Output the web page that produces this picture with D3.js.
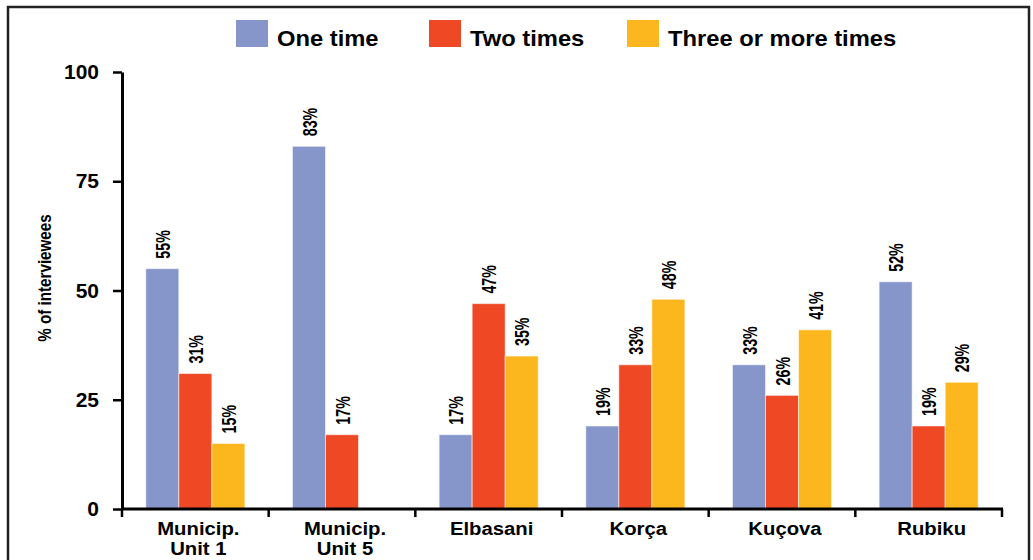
<!DOCTYPE html>
<html>
<head>
<meta charset="utf-8">
<script src="https://cdn.jsdelivr.net/npm/d3@7"></script>
<style>
  html, body { margin: 0; padding: 0; background: #fff; }
  svg { display: block; }
  text { font-family: Arial, "Liberation Sans", Helvetica, sans-serif; font-weight: bold; fill: #000; }
</style>
</head>
<body>
<svg id="chart" width="1033" height="560"></svg>
<script>
// Frequency of responses per municipality
const categories = [["Municip.", "Unit 1"], ["Municip.", "Unit 5"], ["Elbasani"], ["Korça"], ["Kuçova"], ["Rubiku"]];
const seriesNames = ["One time", "Two times", "Three or more times"];
const oneTime      = [55, 83, 17, 19, 33, 52];
const twoTimes     = [31, 17, 47, 33, 26, 19];
const threeOrMore  = [15, null, 35, 48, 41, 29];
const yTicks = [0, 25, 50, 75, 100];
const colors = ["#8696CA", "#EF4824", "#FDB71E"];

const series = [oneTime, twoTimes, threeOrMore];

const svg = d3.select("#chart");

// outer frame
svg.append("rect")
  .attr("x", 8).attr("y", 7)
  .attr("width", 1021).attr("height", 620)
  .attr("fill", "none").attr("stroke", "#222").attr("stroke-width", 2.5);

const plot = { left: 122, right: 1002, top: 72, bottom: 509 };

const x = d3.scaleBand()
  .domain(d3.range(categories.length))
  .range([plot.left, plot.right])
  .padding(0);

const xInner = d3.scaleBand()
  .domain(d3.range(seriesNames.length))
  .range([0, x.bandwidth()])
  .paddingInner(0)
  .paddingOuter(0.72);

const y = d3.scaleLinear().domain([0, 100]).range([plot.bottom, plot.top]);

// bars
const groups = svg.append("g").selectAll("g")
  .data(categories.map((c, i) => i))
  .join("g")
  .attr("transform", i => `translate(${x(i)},0)`);

const cells = i => series.map((s, k) => ({ k, v: s[i] })).filter(d => d.v != null);

groups.selectAll("rect")
  .data(cells)
  .join("rect")
  .attr("x", d => xInner(d.k))
  .attr("width", xInner.bandwidth())
  .attr("y", d => y(d.v))
  .attr("height", d => y(0) - y(d.v))
  .attr("fill", d => colors[d.k])
  .attr("stroke", "rgba(255,255,255,0.55)")
  .attr("stroke-width", 1);

// value labels, rotated and condensed along their length
groups.selectAll("text.val")
  .data(cells)
  .join("text")
  .attr("class", "val")
  .attr("transform", d => `translate(${xInner(d.k) + xInner.bandwidth() / 2},${y(d.v) - 10}) scale(1,0.68) rotate(-90)`)
  .attr("dy", "0.36em")
  .attr("font-size", 21)
  .attr("text-anchor", "start")
  .text(d => d.v + "%");

// y axis
const yAxis = svg.append("g")
  .attr("transform", `translate(${plot.left},0)`)
  .call(d3.axisLeft(y).tickValues(yTicks).tickSize(9).tickPadding(14).tickSizeOuter(0));
yAxis.select(".domain").attr("stroke", "#000").attr("stroke-width", 3);
yAxis.selectAll(".tick line").attr("stroke", "#000").attr("stroke-width", 2.5);
yAxis.selectAll(".tick text")
  .attr("font-size", 21)
  .attr("font-family", "Arial, 'Liberation Sans', sans-serif")
  .attr("font-weight", "bold")
  .attr("fill", "#000");

// x axis with ticks at category boundaries
svg.append("line")
  .attr("x1", plot.left - 1).attr("x2", plot.right + 1)
  .attr("y1", y(0)).attr("y2", y(0))
  .attr("stroke", "#000").attr("stroke-width", 3);
svg.append("g").selectAll("line")
  .data(d3.range(categories.length + 1))
  .join("line")
  .attr("x1", i => i < categories.length ? x(i) : plot.right)
  .attr("x2", i => i < categories.length ? x(i) : plot.right)
  .attr("y1", y(0)).attr("y2", y(0) + 8)
  .attr("stroke", "#000").attr("stroke-width", 2.5);

// category labels
const catLabels = svg.append("g").selectAll("text")
  .data(categories.map((c, i) => ({ c, i })))
  .join("text")
  .attr("transform", d => `translate(${x(d.i) + x.bandwidth() / 2 + 3},535) scale(1.16,1)`)
  .attr("text-anchor", "middle")
  .attr("font-size", 17.5);
catLabels.selectAll("tspan")
  .data(d => d.c)
  .join("tspan")
  .attr("x", 0)
  .attr("dy", (t, j) => j === 0 ? 0 : 20.5)
  .text(t => t);

// y axis title
svg.append("text")
  .attr("transform", `translate(44,278) scale(1,0.8) rotate(-90)`)
  .attr("text-anchor", "middle")
  .attr("dy", "0.36em")
  .attr("font-size", 19)
  .text("% of interviewees");

// legend
const legendX = [236, 429, 627];
const legend = svg.append("g").selectAll("g")
  .data(seriesNames.map((n, k) => ({ n, k })))
  .join("g")
  .attr("transform", d => `translate(${legendX[d.k]},20)`);
legend.append("rect")
  .attr("width", 32).attr("height", 27)
  .attr("fill", d => colors[d.k]);
legend.append("text")
  .attr("transform", "translate(41,26) scale(1.08,1)")
  .attr("font-size", 22)
  .text(d => d.n);
</script>
</body>
</html>
